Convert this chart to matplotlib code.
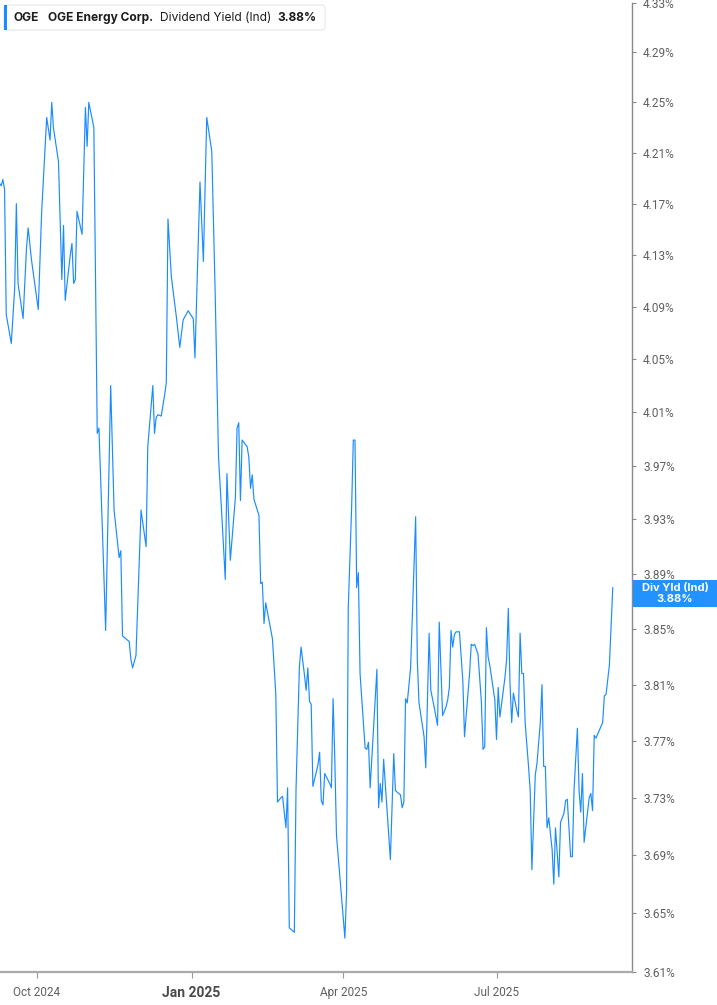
import matplotlib
matplotlib.use("Agg")
import matplotlib.pyplot as plt
from matplotlib.patches import FancyBboxPatch, Rectangle
from matplotlib.ticker import FixedLocator, NullLocator, FuncFormatter
import pandas as pd
from datetime import datetime

plt.rcParams['font.family'] = ['Inter', 'DejaVu Sans']

ticker = "OGE"
company = "OGE Energy Corp."
metric = "Dividend Yield (Ind)"
short_metric = "Div Yld (Ind)"

dates = [
    "2024-09-09", "2024-09-10", "2024-09-11", "2024-09-12", "2024-09-13", "2024-09-16", "2024-09-18",
    "2024-09-19", "2024-09-20", "2024-09-23", "2024-09-25", "2024-09-26", "2024-09-28", "2024-09-30",
    "2024-10-02", "2024-10-04", "2024-10-07", "2024-10-09", "2024-10-10", "2024-10-11", "2024-10-14",
    "2024-10-16", "2024-10-17", "2024-10-18", "2024-10-21", "2024-10-22", "2024-10-23", "2024-10-24",
    "2024-10-25", "2024-10-28", "2024-10-30", "2024-10-31", "2024-11-01", "2024-11-04", "2024-11-06",
    "2024-11-07", "2024-11-09", "2024-11-11", "2024-11-14", "2024-11-16", "2024-11-19", "2024-11-20",
    "2024-11-21", "2024-11-25", "2024-11-26", "2024-11-27", "2024-11-29", "2024-12-02", "2024-12-05",
    "2024-12-06", "2024-12-09", "2024-12-10", "2024-12-11", "2024-12-12", "2024-12-14", "2024-12-16",
    "2024-12-17", "2024-12-18", "2024-12-20", "2024-12-23", "2024-12-25", "2024-12-27", "2024-12-30",
    "2025-01-02", "2025-01-03", "2025-01-06", "2025-01-08", "2025-01-10", "2025-01-13", "2025-01-15",
    "2025-01-17", "2025-01-19", "2025-01-21", "2025-01-22", "2025-01-24", "2025-01-27", "2025-01-28",
    "2025-01-29", "2025-01-30", "2025-01-31", "2025-02-03", "2025-02-04", "2025-02-05", "2025-02-06",
    "2025-02-07", "2025-02-10", "2025-02-11", "2025-02-12", "2025-02-13", "2025-02-14", "2025-02-18",
    "2025-02-19", "2025-02-20", "2025-02-21", "2025-02-23", "2025-02-24", "2025-02-26", "2025-02-27",
    "2025-02-28", "2025-03-03", "2025-03-04", "2025-03-06", "2025-03-07", "2025-03-09", "2025-03-10",
    "2025-03-11", "2025-03-12", "2025-03-13", "2025-03-14", "2025-03-17", "2025-03-18", "2025-03-19",
    "2025-03-20", "2025-03-21", "2025-03-24", "2025-03-25", "2025-03-26", "2025-03-27", "2025-03-28",
    "2025-04-02", "2025-04-03", "2025-04-04", "2025-04-06", "2025-04-07", "2025-04-08", "2025-04-09",
    "2025-04-10", "2025-04-11", "2025-04-14", "2025-04-15", "2025-04-16", "2025-04-17", "2025-04-21",
    "2025-04-22", "2025-04-23", "2025-04-24", "2025-04-25", "2025-04-29", "2025-05-01", "2025-05-02",
    "2025-05-05", "2025-05-06", "2025-05-07", "2025-05-08", "2025-05-09", "2025-05-11", "2025-05-14",
    "2025-05-15", "2025-05-16", "2025-05-19", "2025-05-20", "2025-05-22", "2025-05-23", "2025-05-25",
    "2025-05-27", "2025-05-28", "2025-05-30", "2025-06-01", "2025-06-02", "2025-06-03", "2025-06-04",
    "2025-06-05", "2025-06-06", "2025-06-07", "2025-06-09", "2025-06-11", "2025-06-12", "2025-06-15",
    "2025-06-16", "2025-06-17", "2025-06-18", "2025-06-20", "2025-06-22", "2025-06-23", "2025-06-24",
    "2025-06-25", "2025-06-26", "2025-06-27", "2025-06-30", "2025-07-01", "2025-07-02", "2025-07-03",
    "2025-07-06", "2025-07-07", "2025-07-08", "2025-07-09", "2025-07-10", "2025-07-11", "2025-07-13",
    "2025-07-14", "2025-07-15", "2025-07-16", "2025-07-17", "2025-07-18", "2025-07-20", "2025-07-21",
    "2025-07-22", "2025-07-24", "2025-07-25", "2025-07-27", "2025-07-28", "2025-07-29", "2025-07-30",
    "2025-07-31", "2025-08-01", "2025-08-03", "2025-08-04", "2025-08-05", "2025-08-07", "2025-08-08",
    "2025-08-10", "2025-08-11", "2025-08-12", "2025-08-14", "2025-08-15", "2025-08-16", "2025-08-18",
    "2025-08-19", "2025-08-20", "2025-08-21", "2025-08-22", "2025-08-24", "2025-08-25", "2025-08-26",
    "2025-08-27", "2025-08-28", "2025-08-29", "2025-09-02", "2025-09-03", "2025-09-04", "2025-09-06",
    "2025-09-08",
]

div_yield = [
    4.186, 4.184, 4.189, 4.181, 4.084, 4.062, 4.104,
    4.170, 4.108, 4.081, 4.135, 4.151, 4.126, 4.107,
    4.088, 4.163, 4.238, 4.220, 4.250, 4.230, 4.203,
    4.111, 4.153, 4.095, 4.130, 4.139, 4.108, 4.111,
    4.164, 4.146, 4.246, 4.215, 4.250, 4.230, 3.994,
    3.998, 3.925, 3.849, 4.030, 3.937, 3.902, 3.907,
    3.845, 3.841, 3.828, 3.822, 3.831, 3.937, 3.910,
    3.984, 4.030, 3.994, 4.006, 4.008, 4.007, 4.023,
    4.032, 4.158, 4.113, 4.082, 4.059, 4.080, 4.087,
    4.081, 4.051, 4.187, 4.125, 4.238, 4.211, 4.101,
    3.976, 3.932, 3.886, 3.964, 3.900, 3.946, 3.998,
    4.002, 3.944, 3.989, 3.984, 3.976, 3.953, 3.963,
    3.945, 3.933, 3.883, 3.884, 3.854, 3.869, 3.843,
    3.823, 3.803, 3.727, 3.730, 3.731, 3.709, 3.737,
    3.640, 3.637, 3.736, 3.823, 3.837, 3.817, 3.806,
    3.822, 3.798, 3.796, 3.738, 3.753, 3.762, 3.728,
    3.725, 3.747, 3.740, 3.737, 3.800, 3.758, 3.704,
    3.633, 3.665, 3.865, 3.939, 3.989, 3.989, 3.880,
    3.891, 3.818, 3.765, 3.764, 3.769, 3.737, 3.821,
    3.723, 3.740, 3.727, 3.757, 3.687, 3.761, 3.735,
    3.732, 3.723, 3.727, 3.800, 3.797, 3.822, 3.932,
    3.827, 3.797, 3.773, 3.751, 3.847, 3.806, 3.794,
    3.781, 3.855, 3.788, 3.794, 3.799, 3.808, 3.849,
    3.837, 3.846, 3.848, 3.848, 3.813, 3.773, 3.818,
    3.839, 3.838, 3.839, 3.832, 3.798, 3.764, 3.766,
    3.851, 3.830, 3.824, 3.799, 3.771, 3.808, 3.787,
    3.815, 3.828, 3.865, 3.811, 3.783, 3.804, 3.792,
    3.787, 3.847, 3.818, 3.818, 3.783, 3.752, 3.735,
    3.680, 3.746, 3.754, 3.783, 3.810, 3.752, 3.752,
    3.709, 3.716, 3.694, 3.670, 3.709, 3.675, 3.713,
    3.719, 3.728, 3.729, 3.689, 3.689, 3.735, 3.779,
    3.735, 3.720, 3.747, 3.699, 3.720, 3.730, 3.733,
    3.721, 3.774, 3.772, 3.783, 3.802, 3.803, 3.824,
    3.880,
]

y_ticks = [3.61, 3.65, 3.69, 3.73, 3.77, 3.81, 3.85, 3.89, 3.93, 3.97,
           4.01, 4.05, 4.09, 4.13, 4.17, 4.21, 4.25, 4.29, 4.33]
x_ticks = ["2024-10-01", "2025-01-01", "2025-04-01", "2025-07-01"]
x_labels = ["Oct 2024", "Jan 2025", "Apr 2025", "Jul 2025"]

line_col = '#1a8cff'
grey = '#5f5f5f'
tick_font = ['Roboto', 'DejaVu Sans']
W, H = 717, 1005

fig = plt.figure(figsize=(W / 100, H / 100), dpi=100)
ax = fig.add_axes([0, 1 - 972 / H, 632 / W, 969 / H])

x = pd.to_datetime(dates)
ax.plot(x, div_yield, color=line_col, lw=0.85)

ax.set_yscale('log')
ax.set_ylim(y_ticks[0], y_ticks[-1])
ax.yaxis.set_major_locator(FixedLocator(y_ticks))
ax.yaxis.set_minor_locator(NullLocator())
ax.yaxis.set_major_formatter(FuncFormatter(lambda v, p: f"{v:.2f}%"))
ax.yaxis.tick_right()
ax.tick_params(axis='y', length=3, width=0.8, color='#888888', pad=5,
               labelsize=8.5, labelcolor=grey)

ax.set_xlim(datetime(2024, 9, 9, 7), datetime(2025, 9, 19, 10))
ax.set_xticks(pd.to_datetime(x_ticks))
ax.set_xticklabels(x_labels)
ax.tick_params(axis='x', length=4, width=0.8, color='#999999', pad=6,
               labelsize=8.5, labelcolor=grey)
for lbl in ax.get_xticklabels() + ax.get_yticklabels():
    lbl.set_family(tick_font)
for lbl in ax.get_xticklabels():
    if lbl.get_text().startswith("Jan"):
        lbl.set_fontweight('bold')
        lbl.set_fontsize(10)
        lbl.set_color('#4a4a4a')

for s in ['top', 'left']:
    ax.spines[s].set_visible(False)
ax.spines['bottom'].set_color('#aaaaaa')
ax.spines['bottom'].set_linewidth(1.6)
ax.spines['right'].set_color('#8a8a8a')
ax.spines['right'].set_linewidth(1.0)

# overlay in pixel coords for header and value tag
ov = fig.add_axes([0, 0, 1, 1], zorder=5)
ov.set_xlim(0, W)
ov.set_ylim(H, 0)
ov.axis('off')
ov.patch.set_alpha(0)

ov.add_patch(FancyBboxPatch((4, 5), 321, 25, boxstyle="round,pad=0,rounding_size=3",
                            fc='white', ec='#e6e6e6', lw=0.8))
ov.add_patch(Rectangle((4, 5), 3, 25, fc=line_col, ec='none'))
last = f"{div_yield[-1]:.2f}%"
ov.text(13, 17.5, ticker, fontsize=8.6, fontweight='bold', color='#1c1c1c', va='center')
ov.text(48, 17.5, company, fontsize=8.6, fontweight='bold', color='#1c1c1c', va='center')
ov.text(160, 17.5, metric, fontsize=8.6, color='#1c1c1c', va='center')
ov.text(277, 17.5, last, fontsize=8.6, fontweight='bold', color='#1c1c1c', va='center')

ov.add_patch(Rectangle((633, 580), 84, 27, fc='#2192ff', ec='none'))
ov.text(675, 587.5, short_metric, fontsize=8, fontweight='bold', color='white',
        ha='center', va='center')
ov.text(675, 599, last, fontsize=8, fontweight='bold', color='white',
        ha='center', va='center')

fig.savefig("out.png", dpi=100)
